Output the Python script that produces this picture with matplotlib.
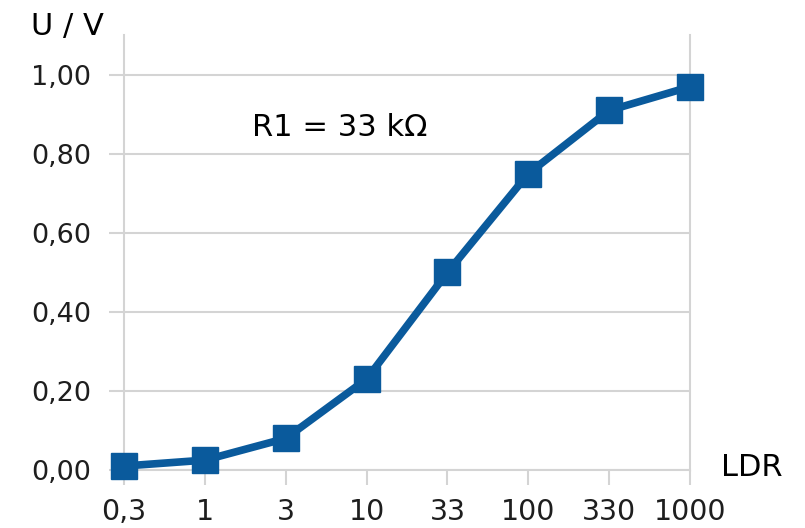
import matplotlib
matplotlib.use("Agg")
import matplotlib.pyplot as plt

categories = ["0,3", "1", "3", "10", "33", "100", "330", "1000"]
voltage = [0.01, 0.025, 0.08, 0.23, 0.50, 0.75, 0.91, 0.97]
yticks = [0.0, 0.2, 0.4, 0.6, 0.8, 1.0]
ytick_labels = ["0,00", "0,20", "0,40", "0,60", "0,80", "1,00"]

W, H = 805, 528
fig = plt.figure(figsize=(W / 100, H / 100), dpi=100)
left, right, top, bottom = 124, 690, 35, 470
ax = fig.add_axes([left / W, 1 - bottom / H, (right - left) / W, (bottom - top) / H])

x = list(range(len(categories)))
ax.plot(x, voltage, color="#0a5a9c", lw=5.5, marker="s", ms=18.5,
        clip_on=False, zorder=5)

ax.set_xlim(0, len(categories) - 1)
ax.set_ylim(0, 1.101)
ax.set_yticks(yticks)
ax.set_yticklabels(ytick_labels)
ax.set_xticks(x)
ax.set_xticklabels(categories)

grid_c = "#d4d4d4"
ax.yaxis.grid(True, color=grid_c, lw=1.5)
ax.xaxis.grid(False)
ax.set_axisbelow(True)
ax.spines["top"].set_visible(False)
for s in ["left", "right", "bottom"]:
    ax.spines[s].set_color(grid_c)
    ax.spines[s].set_linewidth(1.5)

lab_font = "DejaVu Sans"
ax.tick_params(axis="both", colors=grid_c, width=1.5, length=10.5,
               labelcolor="#1e1e1e", labelsize=20.5)
ax.tick_params(axis="y", pad=13, labelsize=19.5)
ax.tick_params(axis="x", pad=10)
for lbl in ax.get_xticklabels() + ax.get_yticklabels():
    lbl.set_fontfamily(lab_font)

txt_font = ["DejaVu Sans"]
fig.text(67 / W, 1 - 26 / H, "U / V", fontsize=22, family=txt_font,
         ha="center", va="center")
fig.text(752 / W, 1 - 468 / H, "LDR", fontsize=22, family=txt_font,
         ha="center", va="center")
fig.text(340 / W, 1 - 127 / H, "R1 = 33 kΩ", fontsize=22, family=txt_font,
         ha="center", va="center")

fig.savefig("out.png", dpi=100)
